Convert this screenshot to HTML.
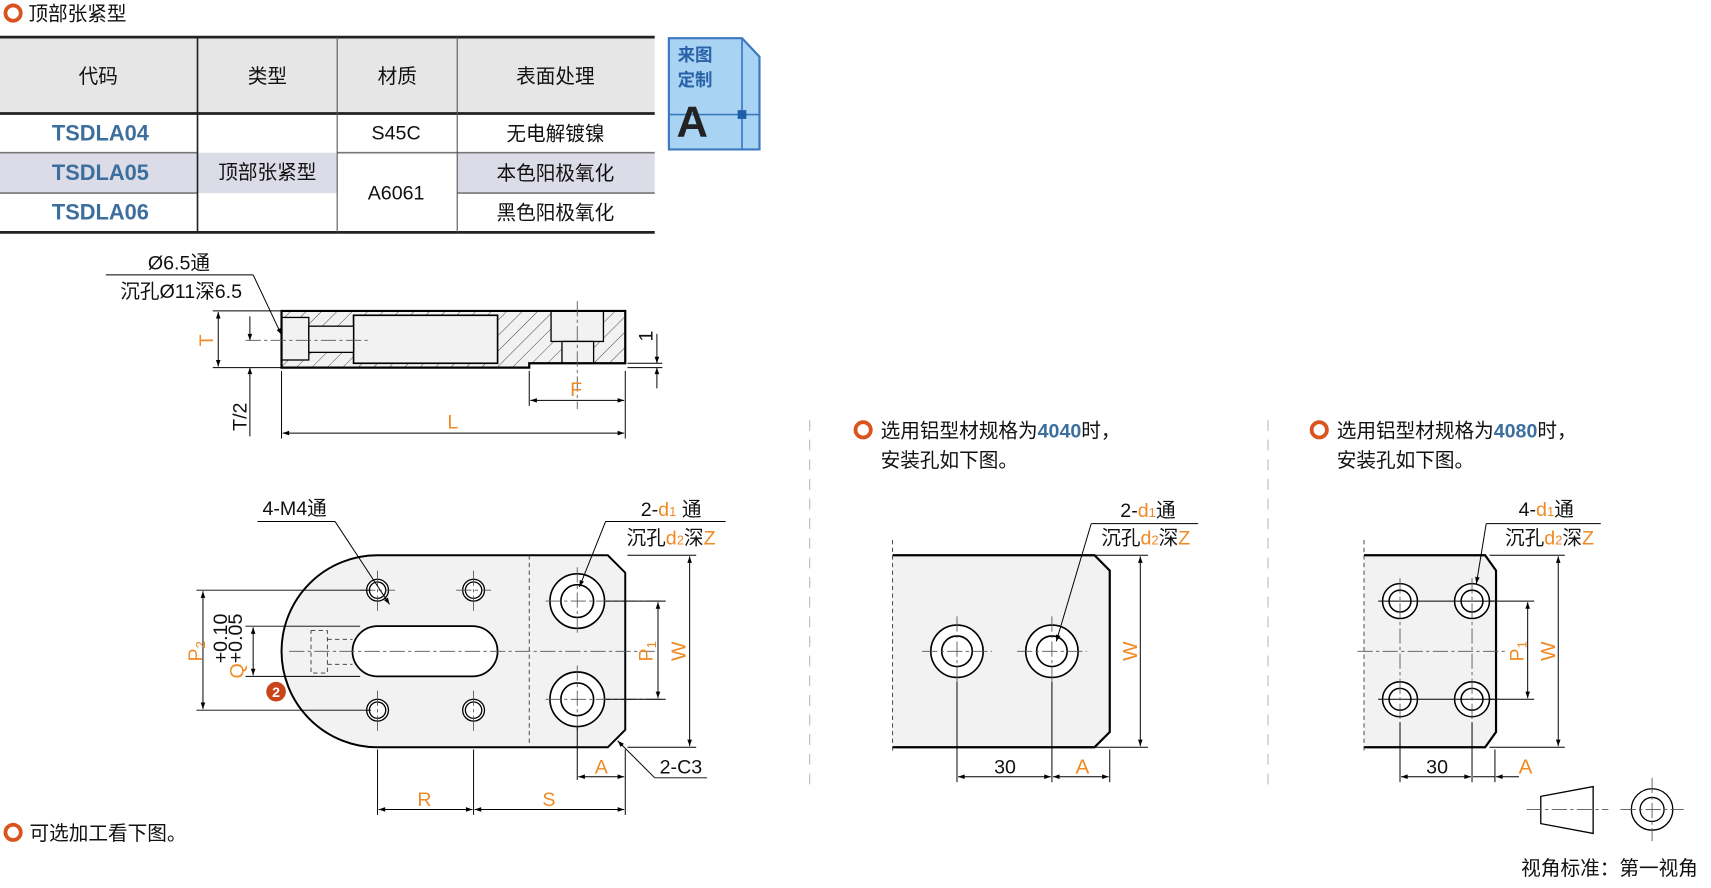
<!DOCTYPE html>
<html><head><meta charset="utf-8"><style>
html,body{margin:0;padding:0;background:#fff;}
svg{display:block;}
text{font-family:"Liberation Sans","Noto Sans CJK SC",sans-serif;}
</style></head><body>
<svg width="1711" height="888" viewBox="0 0 1568 814" preserveAspectRatio="none" xmlns="http://www.w3.org/2000/svg">
<defs>
<pattern id="h" patternUnits="userSpaceOnUse" width="10" height="10" patternTransform="rotate(45)">
<rect width="10" height="10" fill="#f2f2f2"/><line x1="0" y1="0" x2="0" y2="10" stroke="#333" stroke-width="0.8"/></pattern>
<marker id="a" viewBox="0 0 10 10" refX="10" refY="5" markerWidth="9" markerHeight="6" orient="auto-start-reverse" markerUnits="userSpaceOnUse"><path d="M0,1.5 L10,5 L0,8.5 Z" fill="#000"/></marker>
</defs>
<style>
.t{font-size:18px;fill:#111;}
.o{fill:#f08a24;}
.b{fill:#3d6f9e;font-weight:bold;}
.ln{stroke:#000;stroke-width:0.9;fill:none;}
.th{stroke:#000;stroke-width:2;fill:none;}
.dm{stroke:#000;stroke-width:0.9;fill:none;marker-start:url(#a);marker-end:url(#a);}
.cl{stroke:#555;stroke-width:0.8;stroke-dasharray:14 3 3 3;fill:none;}
.ds{stroke:#333;stroke-width:0.8;stroke-dasharray:4 3;fill:none;}
</style>

<circle cx="12" cy="12" r="7" fill="none" stroke="#d9541e" stroke-width="3.5"/>
<text x="26" y="19" class="t" font-size="18">顶部张紧型</text>

<rect x="0" y="34" width="600" height="70" fill="#e6e6e6"/>
<rect x="0" y="140" width="309" height="37" fill="#dcdce9"/>
<rect x="419" y="140" width="181" height="37" fill="#dcdce9"/>
<line x1="0" y1="34" x2="600" y2="34" stroke="#222" stroke-width="2.5"/>
<line x1="0" y1="104" x2="600" y2="104" stroke="#222" stroke-width="2.5"/>
<line x1="0" y1="213" x2="600" y2="213" stroke="#222" stroke-width="2.5"/>
<line x1="0" y1="140" x2="181" y2="140" stroke="#777" stroke-width="1.5"/>
<line x1="0" y1="177" x2="181" y2="177" stroke="#777" stroke-width="1.5"/>
<line x1="309" y1="140" x2="600" y2="140" stroke="#777" stroke-width="1.5"/>
<line x1="419" y1="177" x2="600" y2="177" stroke="#777" stroke-width="1.5"/>
<line x1="181" y1="34" x2="181" y2="213" stroke="#222" stroke-width="1.5"/>
<line x1="309" y1="34" x2="309" y2="213" stroke="#555" stroke-width="1"/>
<line x1="419" y1="34" x2="419" y2="213" stroke="#555" stroke-width="1"/>
<g class="t" font-size="20" text-anchor="middle">
<text x="90" y="76">代码</text><text x="245" y="76">类型</text><text x="364" y="76">材质</text><text x="509" y="76">表面处理</text>
</g>
<g font-size="20" text-anchor="middle">
<text x="92" y="129" class="b">TSDLA04</text>
<text x="92" y="165" class="b">TSDLA05</text>
<text x="92" y="201" class="b">TSDLA06</text>
<text x="245" y="164" class="t" font-size="20">顶部张紧型</text>
<text x="363" y="128" class="t" font-size="20">S45C</text>
<text x="363" y="183" class="t" font-size="20">A6061</text>
<text x="509" y="129" class="t" font-size="20">无电解镀镍</text>
<text x="509" y="165" class="t" font-size="20">本色阳极氧化</text>
<text x="509" y="201" class="t" font-size="20">黑色阳极氧化</text>
</g>

<path d="M613,35 L680,35 L696,52 L696,137 L613,137 Z" fill="#a9d3f3" stroke="#3a78c0" stroke-width="2"/>
<line x1="680" y1="35" x2="680" y2="137" stroke="#3a78c0" stroke-width="1.5"/>
<line x1="613" y1="105" x2="696" y2="105" stroke="#3a78c0" stroke-width="1.5"/>
<rect x="676" y="101" width="8" height="8" fill="#1f5ea8"/>
<text x="621" y="56" font-size="16" font-weight="bold" fill="#2a62a8">来图</text>
<text x="621" y="79" font-size="16" font-weight="bold" fill="#2a62a8">定制</text>
<text x="620" y="125" font-size="40" font-weight="bold" fill="#222">A</text>

<rect x="258" y="285" width="315" height="48" fill="url(#h)"/>
<rect x="258" y="333" width="227" height="4" fill="url(#h)"/>
<rect x="324" y="289" width="132" height="44" fill="#f2f2f2" stroke="#000" stroke-width="1.5"/>
<rect x="258" y="291" width="25" height="39" fill="#f2f2f2" stroke="#000" stroke-width="1.2"/>
<rect x="283" y="299" width="41" height="24" fill="#f2f2f2" stroke="#000" stroke-width="1.2"/>
<rect x="505" y="285" width="48" height="28" fill="#f2f2f2" stroke="#000" stroke-width="1.2"/>
<rect x="515" y="313" width="29" height="20" fill="#f2f2f2" stroke="#000" stroke-width="1.2"/>
<path d="M258,285 L573,285 L573,333 L485,333 L485,337 L258,337 Z" class="th"/>
<line x1="324" y1="337" x2="456" y2="337" stroke="#000" stroke-width="1"/>
<line x1="225" y1="312" x2="340" y2="312" class="cl"/>
<line x1="529" y1="276" x2="529" y2="375" class="cl"/>
<line x1="195" y1="285" x2="258" y2="285" class="ln"/>
<line x1="195" y1="337" x2="258" y2="337" class="ln"/>
<line x1="200" y1="286" x2="200" y2="336" class="dm"/>
<text transform="translate(195,312) rotate(-90)" text-anchor="middle" class="o" font-size="18">T</text>
<line x1="229" y1="290" x2="229" y2="312" class="ln" marker-end="url(#a)"/>
<line x1="229" y1="400" x2="229" y2="337" class="ln" marker-end="url(#a)"/>
<text transform="translate(226,382) rotate(-90)" text-anchor="middle" class="t" font-size="18">T/2</text>
<line x1="258" y1="340" x2="258" y2="402" class="ln"/>
<line x1="573" y1="340" x2="573" y2="402" class="ln"/>
<line x1="485" y1="340" x2="485" y2="372" class="ln"/>
<line x1="259" y1="397" x2="572" y2="397" class="dm"/>
<text x="415" y="393" text-anchor="middle" class="o" font-size="18">L</text>
<line x1="486" y1="367" x2="572" y2="367" class="dm"/>
<text x="528" y="363" text-anchor="middle" class="o" font-size="18">F</text>
<line x1="575" y1="333" x2="607" y2="333" class="ln"/>
<line x1="575" y1="337" x2="607" y2="337" class="ln"/>
<line x1="602" y1="306" x2="602" y2="333" class="ln" marker-end="url(#a)"/>
<line x1="602" y1="356" x2="602" y2="337" class="ln" marker-end="url(#a)"/>
<text transform="translate(598,308) rotate(-90)" text-anchor="middle" class="t" font-size="17">1</text>
<text x="164" y="247" text-anchor="middle" class="t" font-size="19">Ø6.5通</text>
<text x="166" y="273" text-anchor="middle" class="t" font-size="19">沉孔Ø11深6.5</text>
<line x1="97" y1="252" x2="232" y2="252" class="ln"/>
<line x1="232" y1="252" x2="258" y2="307" class="ln" marker-end="url(#a)"/>

<path d="M346,509 L557,509 L573,525 L573,669 L557,685 L346,685 A88,88 0 0 1 346,509 Z" fill="#f2f2f2" stroke="#000" stroke-width="1.8"/>
<line x1="485" y1="509" x2="485" y2="685" class="ds"/>
<rect x="323" y="574" width="133" height="46" rx="23" fill="#fff" stroke="#000" stroke-width="1.6"/>
<rect x="285" y="578" width="15" height="39" class="ds"/>
<line x1="300" y1="586" x2="323" y2="586" class="ds"/>
<line x1="300" y1="609" x2="323" y2="609" class="ds"/>
<line x1="265" y1="597" x2="600" y2="597" class="cl"/>
<g fill="#fff" stroke="#000" stroke-width="1.2">
<circle cx="346" cy="541" r="10"/><circle cx="346" cy="541" r="7.5"/>
<circle cx="434" cy="541" r="10"/><circle cx="434" cy="541" r="7.5"/>
<circle cx="346" cy="651" r="10"/><circle cx="346" cy="651" r="7.5"/>
<circle cx="434" cy="651" r="10"/><circle cx="434" cy="651" r="7.5"/>
<circle cx="529" cy="551" r="25" stroke-width="1.5"/><circle cx="529" cy="551" r="15" stroke-width="1.5"/>
<circle cx="529" cy="641" r="25" stroke-width="1.5"/><circle cx="529" cy="641" r="15" stroke-width="1.5"/>
</g>
<g class="cl">
<line x1="346" y1="523" x2="346" y2="560"/><line x1="330" y1="541" x2="362" y2="541"/>
<line x1="434" y1="523" x2="434" y2="560"/><line x1="418" y1="541" x2="450" y2="541"/>
<line x1="346" y1="633" x2="346" y2="670"/>
<line x1="434" y1="633" x2="434" y2="670"/>
<line x1="529" y1="520" x2="529" y2="582"/><line x1="500" y1="551" x2="610" y2="551"/>
<line x1="529" y1="610" x2="529" y2="672"/><line x1="500" y1="641" x2="610" y2="641"/>
</g>
<line x1="180" y1="541" x2="340" y2="541" class="ln"/>
<line x1="180" y1="651" x2="340" y2="651" class="ln"/>
<line x1="186" y1="542" x2="186" y2="650" class="dm"/>
<text transform="translate(185,597) rotate(-90)" text-anchor="middle" class="o" font-size="18">P<tspan font-size="12" dy="3">2</tspan></text>
<line x1="225" y1="574" x2="330" y2="574" class="ln"/>
<line x1="225" y1="620" x2="330" y2="620" class="ln"/>
<line x1="232" y1="575" x2="232" y2="619" class="dm"/>
<text transform="translate(223,622) rotate(-90)" class="o" font-size="18">Q</text>
<text transform="translate(208,608) rotate(-90)" class="t" font-size="11">+0.10</text>
<text transform="translate(222,608) rotate(-90)" class="t" font-size="11">+0.05</text>
<line x1="555" y1="551" x2="610" y2="551" class="ln"/>
<line x1="555" y1="641" x2="610" y2="641" class="ln"/>
<line x1="603" y1="552" x2="603" y2="640" class="dm"/>
<text transform="translate(598,597) rotate(-90)" text-anchor="middle" class="o" font-size="18">P<tspan font-size="12" dy="3">1</tspan></text>
<line x1="575" y1="509" x2="638" y2="509" class="ln"/>
<line x1="575" y1="685" x2="638" y2="685" class="ln"/>
<line x1="632" y1="510" x2="632" y2="684" class="dm"/>
<text transform="translate(628,597) rotate(-90)" text-anchor="middle" class="o" font-size="19">W</text>
<line x1="346" y1="687" x2="346" y2="747" class="ln"/>
<line x1="434" y1="687" x2="434" y2="747" class="ln"/>
<line x1="529" y1="666" x2="529" y2="715" class="ln"/>
<line x1="573" y1="687" x2="573" y2="747" class="ln"/>
<line x1="530" y1="712" x2="572" y2="712" class="dm"/>
<text x="551" y="709" text-anchor="middle" class="o" font-size="18">A</text>
<line x1="347" y1="742" x2="433" y2="742" class="dm"/>
<text x="389" y="739" text-anchor="middle" class="o" font-size="18">R</text>
<line x1="435" y1="742" x2="572" y2="742" class="dm"/>
<text x="503" y="739" text-anchor="middle" class="o" font-size="18">S</text>
<line x1="600" y1="713" x2="566" y2="679" class="ln" marker-end="url(#a)"/>
<line x1="600" y1="713" x2="648" y2="713" class="ln"/>
<text x="624" y="709" text-anchor="middle" class="t" font-size="19">2-C3</text>
<text x="270" y="472" text-anchor="middle" class="t" font-size="19">4-M4通</text>
<line x1="236" y1="478" x2="307" y2="478" class="ln"/>
<line x1="307" y1="478" x2="357" y2="554" class="ln" marker-end="url(#a)"/>
<text x="615" y="473" text-anchor="middle" class="t" font-size="19">2-<tspan class="o">d<tspan font-size="12">1</tspan></tspan> 通</text>
<text x="615" y="499" text-anchor="middle" class="t" font-size="19">沉孔<tspan class="o">d<tspan font-size="12">2</tspan></tspan>深<tspan class="o">Z</tspan></text>
<line x1="555" y1="478" x2="665" y2="478" class="ln"/>
<line x1="555" y1="478" x2="531" y2="538" class="ln" marker-end="url(#a)"/>
<circle cx="253" cy="634" r="9" fill="#c8461a"/>
<text x="253" y="639" text-anchor="middle" font-size="13" font-weight="bold" fill="#fff">2</text>
<circle cx="12" cy="763" r="7" fill="none" stroke="#d9541e" stroke-width="3.5"/>
<text x="27" y="770" class="t" font-size="19">可选加工看下图。</text>

<line x1="742" y1="385" x2="742" y2="720" stroke="#bbb" stroke-width="1" stroke-dasharray="10 8"/>
<line x1="1162" y1="385" x2="1162" y2="720" stroke="#bbb" stroke-width="1" stroke-dasharray="10 8"/>

<circle cx="791" cy="394" r="7" fill="none" stroke="#d9541e" stroke-width="3.5"/>
<text x="807" y="401" class="t" font-size="19">选用铝型材规格为<tspan class="b">4040</tspan>时，</text>
<text x="807" y="428" class="t" font-size="19">安装孔如下图。</text>
<path d="M818,509 L1003,509 L1017,523 L1017,671 L1003,685 L818,685 Z" fill="#f2f2f2" stroke="none"/>
<path d="M818,509 L1003,509 L1017,523 L1017,671 L1003,685 L818,685" class="th" stroke-width="1.8"/>
<line x1="818" y1="495" x2="818" y2="690" class="ds"/>
<g fill="#fff" stroke="#000" stroke-width="1.5">
<circle cx="877" cy="597" r="24"/><circle cx="877" cy="597" r="14"/>
<circle cx="964" cy="597" r="24"/><circle cx="964" cy="597" r="14"/>
</g>
<g class="cl"><line x1="845" y1="597" x2="909" y2="597"/><line x1="932" y1="597" x2="996" y2="597"/>
<line x1="877" y1="565" x2="877" y2="629"/><line x1="964" y1="565" x2="964" y2="629"/></g>
<line x1="877" y1="625" x2="877" y2="717" class="ln"/>
<line x1="964" y1="625" x2="964" y2="717" class="ln"/>
<line x1="1017" y1="687" x2="1017" y2="717" class="ln"/>
<line x1="878" y1="712" x2="963" y2="712" class="dm"/>
<line x1="965" y1="712" x2="1016" y2="712" class="dm"/>
<text x="921" y="709" text-anchor="middle" class="t" font-size="19">30</text>
<text x="992" y="709" text-anchor="middle" class="o" font-size="19">A</text>
<line x1="1003" y1="509" x2="1052" y2="509" class="ln"/>
<line x1="1003" y1="685" x2="1052" y2="685" class="ln"/>
<line x1="1045" y1="510" x2="1045" y2="684" class="dm"/>
<text transform="translate(1042,597) rotate(-90)" text-anchor="middle" class="o" font-size="19">W</text>
<text x="1052" y="474" text-anchor="middle" class="t" font-size="19">2-<tspan class="o">d<tspan font-size="12">1</tspan></tspan>通</text>
<text x="1050" y="499" text-anchor="middle" class="t" font-size="19">沉孔<tspan class="o">d<tspan font-size="12">2</tspan></tspan>深<tspan class="o">Z</tspan></text>
<line x1="1000" y1="480" x2="1098" y2="480" class="ln"/>
<line x1="1000" y1="480" x2="968" y2="588" class="ln" marker-end="url(#a)"/>

<circle cx="1209" cy="394" r="7" fill="none" stroke="#d9541e" stroke-width="3.5"/>
<text x="1225" y="401" class="t" font-size="19">选用铝型材规格为<tspan class="b">4080</tspan>时，</text>
<text x="1225" y="428" class="t" font-size="19">安装孔如下图。</text>
<path d="M1250,509 L1361,509 L1371,523 L1371,671 L1361,685 L1250,685 Z" fill="#f2f2f2"/>
<path d="M1250,509 L1361,509 L1371,523 L1371,671 L1361,685 L1250,685" class="th" stroke-width="1.8"/>
<line x1="1250" y1="495" x2="1250" y2="690" class="ds"/>
<line x1="1244" y1="597" x2="1380" y2="597" class="cl"/>
<g fill="#fff" stroke="#000" stroke-width="1.4">
<circle cx="1283" cy="551" r="16"/><circle cx="1283" cy="551" r="10"/>
<circle cx="1349" cy="551" r="16"/><circle cx="1349" cy="551" r="10"/>
<circle cx="1283" cy="641" r="16"/><circle cx="1283" cy="641" r="10"/>
<circle cx="1349" cy="641" r="16"/><circle cx="1349" cy="641" r="10"/>
</g>
<g class="ln"><line x1="1263" y1="551" x2="1369" y2="551"/><line x1="1263" y1="641" x2="1369" y2="641"/></g>
<g class="cl"><line x1="1283" y1="530" x2="1283" y2="662"/><line x1="1349" y1="530" x2="1349" y2="662"/></g>
<line x1="1283" y1="662" x2="1283" y2="717" class="ln"/>
<line x1="1349" y1="662" x2="1349" y2="717" class="ln"/>
<line x1="1370" y1="687" x2="1370" y2="717" class="ln"/>
<line x1="1284" y1="712" x2="1348" y2="712" class="dm"/>
<line x1="1392" y1="712" x2="1371" y2="712" class="ln" marker-end="url(#a)"/>
<line x1="1350" y1="712" x2="1370" y2="712" class="ln"/>
<text x="1317" y="709" text-anchor="middle" class="t" font-size="19">30</text>
<text x="1398" y="709" text-anchor="middle" class="o" font-size="19">A</text>
<line x1="1365" y1="551" x2="1406" y2="551" class="ln"/>
<line x1="1365" y1="641" x2="1406" y2="641" class="ln"/>
<line x1="1400" y1="552" x2="1400" y2="640" class="dm"/>
<text transform="translate(1396,597) rotate(-90)" text-anchor="middle" class="o" font-size="18">P<tspan font-size="12" dy="3">1</tspan></text>
<line x1="1365" y1="509" x2="1434" y2="509" class="ln"/>
<line x1="1365" y1="685" x2="1434" y2="685" class="ln"/>
<line x1="1428" y1="510" x2="1428" y2="684" class="dm"/>
<text transform="translate(1425,597) rotate(-90)" text-anchor="middle" class="o" font-size="19">W</text>
<text x="1417" y="473" text-anchor="middle" class="t" font-size="19">4-<tspan class="o">d<tspan font-size="12">1</tspan></tspan>通</text>
<text x="1420" y="499" text-anchor="middle" class="t" font-size="19">沉孔<tspan class="o">d<tspan font-size="12">2</tspan></tspan>深<tspan class="o">Z</tspan></text>
<line x1="1362" y1="480" x2="1467" y2="480" class="ln"/>
<line x1="1362" y1="480" x2="1353" y2="535" class="ln" marker-end="url(#a)"/>

<path d="M1412,730 L1460,721 L1460,764 L1412,755 Z" fill="none" stroke="#000" stroke-width="1.2"/>
<line x1="1399" y1="742" x2="1474" y2="742" class="cl"/>
<circle cx="1514" cy="742" r="19" fill="none" stroke="#000" stroke-width="1.2"/>
<circle cx="1514" cy="742" r="11" fill="none" stroke="#000" stroke-width="1.2"/>
<line x1="1485" y1="742" x2="1543" y2="742" class="cl"/>
<line x1="1514" y1="713" x2="1514" y2="771" class="cl"/>
<text x="1475" y="802" text-anchor="middle" class="t" font-size="16">视角标准：第一视角</text>
</svg>
</body></html>
